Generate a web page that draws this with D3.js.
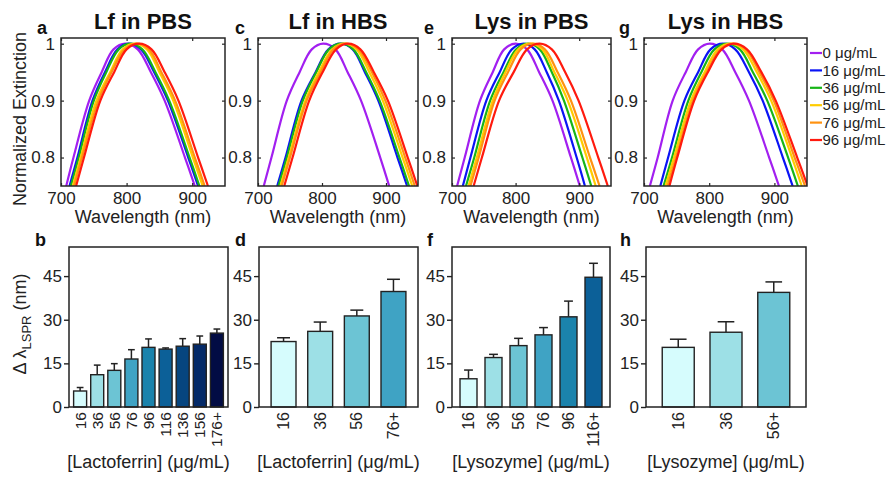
<!DOCTYPE html>
<html><head><meta charset="utf-8">
<script src="https://cdn.jsdelivr.net/npm/d3@7"></script>
<style>
html,body{margin:0;padding:0;background:#fff;}
svg{display:block;font-family:"Liberation Sans",Arial,sans-serif;}
</style></head>
<body><svg id="c" width="887" height="477"></svg>
<script>
// ---------- DATA ----------
const wavelengthTicks = [700, 800, 900];
const extinctionTicks = [0.8, 0.9, 1];
// extinction levels at which each spectrum's wavelength was read (left flank, peak, right flank)
const levels = [0.75, 0.8, 0.9, 0.95, 0.99, 1, 0.99, 0.95, 0.9, 0.8, 0.75];
const concLabels = ["0 μg/mL", "16 μg/mL", "36 μg/mL", "56 μg/mL", "76 μg/mL", "96 μg/mL"];
const lineColors = ["#a21ff0", "#0a14f5", "#17b517", "#ffcc00", "#ff9211", "#ff1a0e"];

const lfPBS = [
  [708, 719, 743, 762, 780, 798, 817, 837, 858, 889, 904],
  [713, 725, 748, 767, 786, 803, 822, 842, 863, 894, 909],
  [715, 727, 750, 769, 788, 805, 824, 844, 865, 896, 911],
  [718, 730, 754, 775, 794, 812, 831, 850, 871, 901, 916],
  [720, 732, 757, 777, 797, 815, 834, 853, 874, 904, 919],
  [723, 735, 760, 781, 800, 819, 838, 858, 879, 909, 924]
];
const lfHBS = [
  [709, 721, 745, 765, 784, 802, 821, 840, 861, 891, 905],
  [730, 743, 768, 790, 810, 829, 848, 867, 888, 918, 933],
  [732, 745, 770, 791, 811, 830, 849, 869, 890, 921, 936],
  [735, 748, 774, 795, 816, 835, 854, 874, 895, 926, 941],
  [737, 750, 776, 798, 818, 838, 857, 878, 899, 930, 945],
  [741, 754, 780, 801, 822, 841, 860, 881, 903, 934, 949]
];
const lysPBS = [
  [708, 720, 744, 764, 782, 800, 818, 837, 858, 887, 901],
  [717, 729, 754, 775, 794, 813, 830, 849, 868, 896, 909],
  [722, 735, 760, 781, 801, 820, 838, 857, 876, 905, 919],
  [726, 739, 764, 784, 804, 823, 842, 861, 882, 912, 926],
  [729, 742, 767, 788, 808, 827, 846, 866, 887, 917, 932],
  [734, 747, 774, 797, 818, 838, 857, 878, 899, 930, 945]
];
const lysHBS = [
  [709, 721, 744, 764, 783, 801, 820, 840, 861, 892, 907],
  [725, 737, 762, 783, 802, 821, 840, 861, 882, 913, 928],
  [730, 743, 768, 788, 808, 827, 847, 867, 889, 921, 936],
  [733, 746, 772, 793, 813, 832, 852, 873, 895, 927, 942],
  [736, 749, 775, 796, 817, 836, 856, 877, 899, 931, 947],
  [739, 751, 777, 798, 819, 838, 858, 880, 902, 935, 951]
];

const shiftTicks = [0, 15, 30, 45];
const lfPBSConc = ["16", "36", "56", "76", "96", "116", "136", "156", "176+"];
const lfPBSShift = [5.5, 11.1, 12.6, 16.5, 20.5, 19.9, 20.9, 21.6, 25.4];
const lfPBSErr = [1.2, 3.3, 2.3, 3.2, 2.9, 0.4, 2.6, 2.8, 1.4];
const lfHBSConc = ["16", "36", "56", "76+"];
const lfHBSShift = [22.5, 26.0, 31.3, 39.7];
const lfHBSErr = [1.3, 3.2, 2.0, 4.2];
const lysPBSConc = ["16", "36", "56", "76", "96", "116+"];
const lysPBSShift = [9.7, 17.0, 21.1, 24.8, 31.0, 44.6];
const lysPBSErr = [3.0, 1.1, 2.5, 2.5, 5.4, 4.8];
const lysHBSConc = ["16", "36", "56+"];
const lysHBSShift = [20.5, 25.7, 39.4];
const lysHBSErr = [2.8, 3.6, 3.6];
const barColors = ["#d6fcfd", "#9de0e6", "#6cc4d4", "#3fa3c4", "#1b83ac", "#0c6098", "#06457f", "#042a68", "#020c44"];

// ---------- DRAWING ----------
const svg = d3.select("#c");
const FONT = '"Liberation Sans",Arial,sans-serif';
const frameColor = "#262626";

const topPanels = [
  {data: lfPBS, title: "Lf in PBS", letter: "a", x0: 61, x1: 225, lx: 37},
  {data: lfHBS, title: "Lf in HBS", letter: "c", x0: 258, x1: 418, lx: 235},
  {data: lysPBS, title: "Lys in PBS", letter: "e", x0: 452, x1: 611, lx: 424},
  {data: lysHBS, title: "Lys in HBS", letter: "g", x0: 644, x1: 807, lx: 619}
];
const tY0 = 38, tY1 = 186;

topPanels.forEach((p, pi) => {
  const x = d3.scaleLinear().domain([700, 950]).range([p.x0, p.x1]);
  const y = d3.scaleLinear().domain([0.75, 1.01]).range([tY1, tY0]);
  const g = svg.append("g");
  const cid = "clip" + pi;
  g.append("clipPath").attr("id", cid).append("rect")
    .attr("x", p.x0).attr("y", tY0).attr("width", p.x1 - p.x0).attr("height", tY1 - tY0);
  const line = d3.line().x(d => x(d[0])).y(d => y(d[1])).curve(d3.curveCatmullRom.alpha(0.5));
  p.data.forEach((s, si) => {
    const pts = s.map((w, i) => [w, levels[i]]);
    g.append("path").attr("clip-path", `url(#${cid})`).attr("d", line(pts))
      .attr("fill", "none").attr("stroke", lineColors[si]).attr("stroke-width", 2.2)
      .attr("stroke-linejoin", "round");
  });
  // axes (inward ticks on all sides)
  const axB = d3.axisBottom(x).tickValues(wavelengthTicks).tickSize(-3).tickPadding(6).tickFormat(d3.format("d"));
  const axT = d3.axisTop(x).tickValues(wavelengthTicks).tickSize(-3).tickFormat("");
  const axL = d3.axisLeft(y).tickValues(extinctionTicks).tickSize(-3).tickPadding(6).tickFormat(d => d === 1 ? "1" : d3.format(".1f")(d));
  const axR = d3.axisRight(y).tickValues(extinctionTicks).tickSize(-3).tickFormat("");
  [[axB, `translate(0,${tY1})`], [axT, `translate(0,${tY0})`], [axL, `translate(${p.x0},0)`], [axR, `translate(${p.x1},0)`]]
    .forEach(([ax, tr]) => {
      const a = g.append("g").attr("transform", tr).call(ax);
      a.select(".domain").remove();
      a.selectAll("line").attr("stroke", frameColor).attr("stroke-width", 1.2);
      a.selectAll("text").attr("font-family", FONT).attr("font-size", 17).attr("fill", "#222");
    });
  g.append("rect").attr("x", p.x0).attr("y", tY0).attr("width", p.x1 - p.x0).attr("height", tY1 - tY0)
    .attr("fill", "none").attr("stroke", frameColor).attr("stroke-width", 1.5);
  g.append("text").attr("x", (p.x0 + p.x1) / 2).attr("y", 223).attr("text-anchor", "middle")
    .attr("font-size", 18).attr("fill", "#222").text("Wavelength (nm)");
  g.append("text").attr("x", (p.x0 + p.x1) / 2).attr("y", 29).attr("text-anchor", "middle")
    .attr("font-size", 22).attr("font-weight", "bold").attr("fill", "#111").text(p.title);
  g.append("text").attr("x", p.lx).attr("y", 34).attr("font-size", 18).attr("font-weight", "bold")
    .attr("fill", "#111").text(p.letter);
});
svg.append("text").attr("transform", `translate(26,119) rotate(-90)`).attr("text-anchor", "middle")
  .attr("font-size", 18).attr("fill", "#222").text("Normalized Extinction");

// legend
const leg = svg.append("g");
concLabels.forEach((t, i) => {
  const yy = 53 + i * 17.4;
  leg.append("line").attr("x1", 810).attr("x2", 822).attr("y1", yy).attr("y2", yy)
    .attr("stroke", lineColors[i]).attr("stroke-width", 2.2);
  leg.append("text").attr("x", 822.5).attr("y", yy).attr("dy", "0.35em").attr("font-size", 15)
    .attr("fill", "#222").text(t);
});

// bottom panels
const botPanels = [
  {conc: lfPBSConc, val: lfPBSShift, err: lfPBSErr, letter: "b", x0: 69, x1: 228, lx: 35, pi: 0.24, po: 0.27, fs: 15.5, xl: "[Lactoferrin] (μg/mL)"},
  {conc: lfHBSConc, val: lfHBSShift, err: lfHBSErr, letter: "d", x0: 259, x1: 418, lx: 235, pi: 0.32, po: 0.33, fs: 16, xl: "[Lactoferrin] (μg/mL)"},
  {conc: lysPBSConc, val: lysPBSShift, err: lysPBSErr, letter: "f", x0: 452, x1: 610, lx: 427, pi: 0.32, po: 0.32, fs: 16, xl: "[Lysozyme] (μg/mL)"},
  {conc: lysHBSConc, val: lysHBSShift, err: lysHBSErr, letter: "h", x0: 646, x1: 806, lx: 620, pi: 0.33, po: 0.34, fs: 16, xl: "[Lysozyme] (μg/mL)"}
];
const bY0 = 247, bY1 = 407;
botPanels.forEach(p => {
  const x = d3.scaleBand().domain(p.conc).range([p.x0, p.x1]).paddingInner(p.pi).paddingOuter(p.po);
  const y = d3.scaleLinear().domain([0, 55]).range([bY1, bY0]);
  const g = svg.append("g");
  const bw = x.bandwidth();
  const rows = p.conc.map((c, i) => ({c, v: p.val[i], e: p.err[i], i}));
  // error bars (upper only)
  g.selectAll(".eb").data(rows).enter().append("line")
    .attr("x1", d => x(d.c) + bw / 2).attr("x2", d => x(d.c) + bw / 2)
    .attr("y1", d => y(d.v)).attr("y2", d => y(d.v + d.e))
    .attr("stroke", "#222").attr("stroke-width", 1.5);
  g.selectAll(".cap").data(rows).enter().append("line")
    .attr("x1", d => x(d.c) + bw * 0.24).attr("x2", d => x(d.c) + bw * 0.76)
    .attr("y1", d => y(d.v + d.e)).attr("y2", d => y(d.v + d.e))
    .attr("stroke", "#222").attr("stroke-width", 1.5);
  g.selectAll(".bar").data(rows).enter().append("rect")
    .attr("x", d => x(d.c)).attr("width", bw)
    .attr("y", d => y(d.v)).attr("height", d => y(0) - y(d.v))
    .attr("fill", d => barColors[d.i]).attr("stroke", "#222").attr("stroke-width", 1.4);
  g.append("rect").attr("x", p.x0).attr("y", bY0).attr("width", p.x1 - p.x0).attr("height", bY1 - bY0)
    .attr("fill", "none").attr("stroke", "#222").attr("stroke-width", 1.5);
  const axL = g.append("g").attr("transform", `translate(${p.x0},0)`)
    .call(d3.axisLeft(y).tickValues(shiftTicks).tickSize(5).tickPadding(2));
  axL.select(".domain").remove();
  axL.selectAll("line").attr("stroke", "#222").attr("stroke-width", 1.4);
  axL.selectAll("text").attr("font-family", FONT).attr("font-size", 17).attr("fill", "#222");
  const axB = g.append("g").attr("transform", `translate(0,${bY1})`)
    .call(d3.axisBottom(x).tickSize(0).tickPadding(0));
  axB.select(".domain").remove();
  axB.selectAll("text").attr("font-family", FONT).attr("font-size", p.fs).attr("fill", "#222")
    .attr("text-anchor", "end").attr("dy", null).attr("dominant-baseline", "central")
    .attr("transform", "translate(0,5) rotate(-90)").attr("x", 0).attr("y", 0);
  g.append("text").attr("x", (p.x0 + p.x1) / 2).attr("y", 468).attr("text-anchor", "middle")
    .attr("font-size", 18).attr("fill", "#222").text(p.xl);
  g.append("text").attr("x", p.lx).attr("y", 246).attr("font-size", 18).attr("font-weight", "bold")
    .attr("fill", "#111").text(p.letter);
});
const yl = svg.append("text").attr("transform", "translate(26,324) rotate(-90)").attr("text-anchor", "middle")
  .attr("font-size", 18).attr("fill", "#222");
yl.append("tspan").text("Δ λ");
yl.append("tspan").attr("font-size", 13).attr("dy", 5).text("LSPR");
yl.append("tspan").attr("dy", -5).text(" (nm)");
</script></body></html>
